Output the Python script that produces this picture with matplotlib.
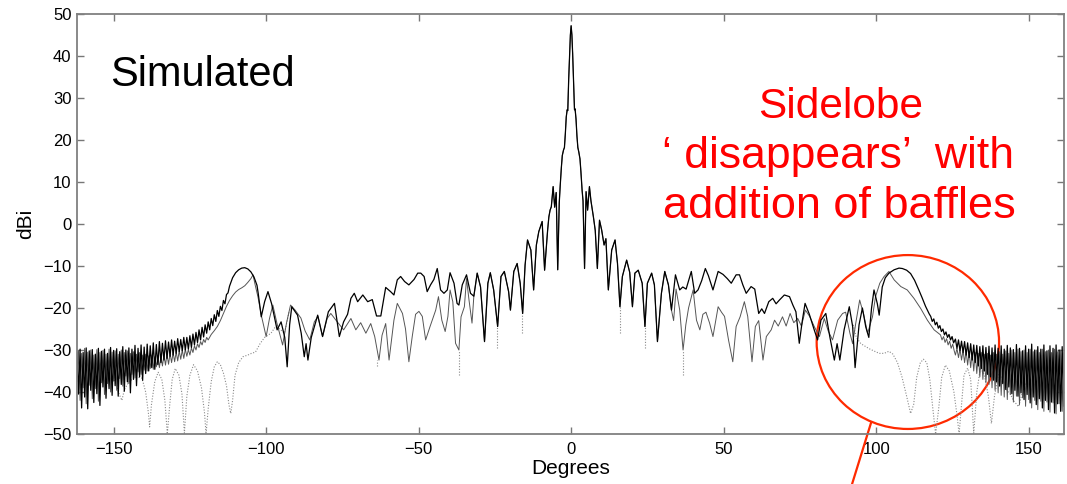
import matplotlib.pyplot as plt
from matplotlib.patches import Ellipse
import numpy as np

plt.rcParams['font.family'] = ['Liberation Sans', 'DejaVu Sans']

# dense ripple at the edges of the pattern, 0.5 deg samples (peak / trough alternating)
BAND_L = np.arange(-162, -125.5, 0.5)
BAND_R = np.arange(126, 162.5, 0.5)

black_band_l = [-30.5, -40.5, -29.8, -43.8, -30.6, -41.2, -29.5, -44.0, -30.2, -39.6,
                -29.9, -42.5, -31.0, -40.4, -29.6, -43.2, -30.3, -38.8, -29.8, -41.5,
                -30.8, -39.2, -29.4, -40.8, -30.1, -38.5, -29.7, -41.0, -30.4, -38.2,
                -29.2, -39.8, -30.0, -37.6, -29.5, -40.2, -29.8, -37.0, -28.9, -38.5,
                -29.6, -36.4, -28.8, -37.2, -29.3, -35.6, -28.6, -35.0, -29.0, -34.2,
                -28.3, -34.6, -28.7, -33.5, -28.0, -33.0, -28.4, -32.4, -27.8, -32.0,
                -28.1, -31.5, -27.6, -31.2, -27.9, -30.8, -27.3, -30.4, -27.5, -30.2,
                -27.0, -30.0, -27.0]
gray_band_l = [-37.5, -30.2, -42.0, -30.8, -39.0, -29.6, -42.8, -30.5, -38.4, -30.0,
               -41.6, -31.2, -39.2, -29.9, -42.2, -30.6, -37.8, -30.1, -40.6, -31.0,
               -38.0, -29.8, -40.0, -30.5, -37.4, -30.2, -39.6, -31.0, -36.8, -30.0,
               -38.6, -30.6, -36.2, -30.2, -38.0, -30.8, -35.8, -30.4, -36.6, -31.0,
               -35.2, -30.6, -35.8, -31.2, -34.8, -31.0, -35.0, -31.4, -34.4, -31.2,
               -34.6, -31.6, -34.0, -31.4, -34.2, -31.5, -33.8, -31.2, -33.6, -31.0,
               -33.4, -30.8, -33.0, -30.6, -32.8, -30.4, -32.6, -30.2, -32.2, -30.0,
               -32.0, -29.8, -31.5]
black_band_r = [-27.4, -29.6, -27.6, -30.2, -27.9, -30.6, -28.0, -31.2, -28.3, -31.8,
                -28.5, -32.4, -28.8, -33.0, -28.9, -33.8, -29.2, -34.4, -29.0, -35.0,
                -29.4, -35.8, -29.1, -36.4, -29.5, -37.2, -28.8, -37.6, -29.6, -38.6,
                -29.0, -38.0, -29.8, -39.4, -28.9, -38.8, -29.5, -40.4, -29.9, -39.6,
                -28.7, -41.0, -29.6, -40.2, -30.2, -41.8, -29.0, -40.6, -29.8, -42.6,
                -28.6, -41.2, -30.0, -43.0, -29.2, -41.6, -29.8, -43.8, -28.8, -42.0,
                -30.2, -44.2, -29.0, -42.4, -29.6, -45.0, -28.8, -42.8, -30.0, -44.6,
                -29.2, -43.4, -29.8]
gray_band_r = [-31.2, -29.6, -31.8, -29.8, -32.4, -30.0, -33.0, -30.2, -33.6, -30.4,
               -34.2, -30.5, -35.0, -30.6, -35.6, -30.8, -36.4, -30.6, -37.0, -31.0,
               -37.8, -30.8, -38.2, -31.2, -39.0, -30.6, -39.6, -31.0, -40.2, -30.4,
               -40.8, -31.0, -41.2, -30.2, -41.8, -30.8, -40.6, -30.0, -42.4, -30.6,
               -41.0, -29.8, -43.0, -30.4, -41.4, -30.0, -43.4, -30.6, -41.8, -29.8,
               -43.8, -30.4, -42.0, -30.0, -44.2, -30.6, -42.2, -29.8, -44.6, -30.4,
               -42.4, -30.0, -44.8, -30.6, -42.6, -29.8, -45.2, -30.4, -42.8, -30.0,
               -44.6, -30.6, -42.6]

# main beam and near sidelobes (same for all three cases)
center_deg = [-31.9, -30.8, -29.7, -28.4, -27.3, -26.5, -25.4, -24.1, -23.0, -21.9,
              -20.5, -19.9, -18.8, -17.7, -16.7, -15.9, -15.1, -14.3, -13.2, -12.3,
              -11.4, -10.6, -9.5, -8.7, -7.7, -7.3, -6.9, -6.5, -5.9, -5.4,
              -4.9, -4.4, -3.9, -3.6, -3.2, -2.9, -2.5, -2.2, -1.9, -1.6,
              -1.3, -1.1, -0.8, -0.5, -0.25, 0.0, 0.25, 0.5, 0.8, 1.1,
              1.3, 1.6, 1.9, 2.2, 2.5, 2.9, 3.2, 3.6, 3.9, 4.4,
              4.9, 5.4, 6.0, 6.5, 6.8, 7.3, 7.9, 8.6, 9.3, 10.0,
              10.8, 11.4, 12.2, 13.3, 14.4, 15.2, 16.0, 16.8, 18.2, 19.2,
              20.1, 20.9, 22.0, 23.3, 24.2, 25.0, 26.4, 27.3, 28.3, 29.6,
              30.7, 31.9, 32.9]
center_db = [-17.2, -11.7, -15.0, -28.0, -14.1, -11.6, -15.7, -24.4, -12.5, -11.3,
             -16.1, -20.5, -11.3, -9.4, -14.1, -21.3, -9.8, -3.8, -6.2, -15.7,
             -5.0, -1.8, 0.6, -11.0, -1.4, 1.7, 3.3, 4.1, 8.9, 4.0,
             7.5, -10.9, 5.0, 8.9, 13.5, 16.3, 17.6, 18.2, 21.5, 25.5,
             27.2, 27.0, 34.5, 40.5, 45.0, 47.2, 45.0, 40.5, 34.0, 27.2,
             27.4, 25.0, 21.0, 18.2, 17.2, 15.5, 12.5, 8.0, 5.5, -10.6,
             7.7, 3.3, 8.9, 5.5, 4.1, 1.7, -1.5, -10.6, 0.9, -1.4,
             -5.0, -3.5, -15.7, -6.2, -3.8, -9.4, -19.7, -12.5, -8.6, -11.5,
             -19.7, -11.7, -11.0, -14.1, -24.4, -14.1, -11.7, -14.5, -28.0, -16.5,
             -11.3, -14.5, -20.5]

# without baffles (solid black)
black_left_deg = [-125.5, -125, -124.5, -124, -123.5, -123, -122.5, -122, -121.5, -121,
                  -120.5, -120, -119.5, -119, -118.5, -118, -117.5, -117, -116.5, -116,
                  -115.5, -115, -114.5, -114, -113.5, -113, -112.5, -112, -111, -110,
                  -109, -108, -107, -106, -105, -104, -103, -102.6, -101.6, -100.5,
                  -99.4, -98.2, -96.4, -95.1, -93.9, -93.1, -92.3, -91.6, -89.7, -88.5,
                  -87.5, -86.9, -86.3, -85.2, -83.1, -81.5, -79.6, -77.6, -76.0, -74.6,
                  -73.3, -72.2, -71.1, -70.0, -68.3, -66.7, -65.2, -63.8, -62.4, -60.8,
                  -59.2, -58.1, -57.0, -55.9, -54.6, -53.2, -51.5, -50.3, -49.3, -48.2,
                  -47.2, -46.1, -45.0, -43.9, -42.8, -41.7, -40.6, -39.7, -38.4, -37.4,
                  -36.8, -35.7, -34.3, -33.0]
black_left_db = [-29.8, -26.6, -29.4, -26.2, -28.8, -25.8, -28.2, -25.2, -27.6, -24.6,
                 -26.9, -24.0, -26.0, -23.3, -25.2, -22.5, -24.2, -21.6, -23.2, -20.6,
                 -22.0, -19.6, -20.6, -18.2, -19.0, -16.8, -16.4, -14.8, -12.8, -11.6,
                 -10.9, -10.5, -10.4, -10.7, -11.4, -12.6, -14.6, -16.5, -22.1, -18.5,
                 -16.1, -19.0, -25.2, -23.3, -27.0, -34.0, -24.0, -19.7, -21.7, -26.0,
                 -31.6, -28.5, -32.4, -27.0, -21.7, -26.8, -20.9, -18.9, -26.8, -23.3,
                 -21.5, -17.7, -16.5, -18.5, -16.9, -18.5, -18.0, -21.9, -21.9, -15.1,
                 -16.1, -16.9, -13.3, -12.5, -13.7, -14.5, -13.2, -11.7, -11.7, -12.5,
                 -16.1, -14.5, -13.2, -10.6, -15.7, -16.5, -15.7, -11.6, -14.1, -18.9,
                 -19.3, -14.5, -12.1, -16.5]
black_right_deg = [34.2, 35.6, 36.6, 37.7, 39.4, 40.5, 41.6, 42.8, 44.0, 45.0,
                   46.5, 48.2, 49.8, 51.2, 52.5, 54.1, 55.2, 56.3, 57.4, 59.0,
                   60.2, 61.5, 62.5, 63.4, 64.8, 66.1, 67.2, 68.3, 69.9, 71.6,
                   72.7, 73.7, 74.8, 75.8, 76.7, 78.1, 79.7, 80.8, 81.9, 83.5,
                   84.8, 86.3, 87.2, 88.1, 89.5, 91.2, 92.3, 93.1, 94.4, 95.5,
                   96.6, 97.6, 98.5, 99.3, 100.4, 101.0, 102.0, 103.0, 104.2, 105.9,
                   107.5, 108.6, 110.0, 111.3, 112.6, 114.0, 115.1, 116.2, 117.4, 117.9,
                   118.4, 118.9, 119.4, 119.9, 120.4, 120.9, 121.4, 121.9, 122.4, 122.9,
                   123.4, 123.9, 124.4, 124.9, 125.4]
black_right_db = [-12.1, -15.7, -15.0, -15.5, -11.3, -16.5, -15.7, -13.5, -10.6, -12.3,
                  -15.7, -11.3, -12.0, -13.0, -14.1, -12.1, -12.1, -14.5, -16.5, -14.9,
                  -15.5, -21.3, -20.2, -21.3, -18.5, -17.7, -19.0, -18.1, -16.9, -17.3,
                  -19.3, -20.9, -28.4, -23.0, -18.9, -21.5, -25.2, -27.6, -22.9, -21.3,
                  -26.8, -32.4, -28.5, -32.4, -25.2, -19.7, -24.4, -34.2, -24.0, -20.0,
                  -24.5, -27.0, -20.0, -15.7, -19.0, -21.7, -15.0, -12.8, -11.7, -10.9,
                  -10.5, -10.6, -11.0, -11.8, -13.4, -15.7, -17.6, -19.6, -21.4, -22.0,
                  -23.2, -22.6, -24.0, -23.4, -24.8, -24.2, -25.6, -25.0, -26.4, -25.7,
                  -27.0, -26.3, -27.6, -26.8, -28.3]

# with baffles (thin grey)
gray_left_deg = [-125.5, -125, -124.5, -124, -123.5, -123, -122.5, -122, -121.5, -121,
                 -120.5, -120, -119.5, -119, -118, -117, -116, -115, -114, -113,
                 -112, -111, -110, -109, -108, -107, -106, -105, -104.3, -103.6,
                 -102.7, -101.5, -100.0, -98.9, -97.8, -96.5, -94.6, -93.3, -92.0, -90.5,
                 -88.6, -87.2, -85.7, -84.2, -83.0, -81.5, -80.0, -78.8, -77.0, -74.6,
                 -72.2, -70.6, -69.0, -67.3, -65.7, -64.4, -63.0, -62.0, -60.8, -59.7,
                 -58.1, -57.0, -55.3, -54.3, -53.2, -52.1, -51.0, -49.9, -48.8, -47.7,
                 -46.3, -44.4, -43.5, -42.4, -41.3, -40.4, -39.7, -38.8, -37.9, -36.8,
                 -36.1, -35.0, -34.3, -33.5, -32.5]
gray_left_db = [-29.9, -31.2, -29.5, -30.6, -29.0, -30.0, -28.5, -29.4, -28.0, -28.8,
                -27.5, -28.2, -27.0, -27.6, -26.3, -25.4, -24.4, -23.0, -21.3, -19.6,
                -18.2, -17.1, -16.2, -15.6, -15.2, -14.7, -13.9, -13.0, -12.1, -14.5,
                -17.3, -22.0, -26.8, -22.5, -19.3, -23.5, -28.8, -23.5, -19.3, -20.5,
                -22.4, -25.5, -27.6, -23.3, -22.0, -26.8, -22.5, -21.3, -23.0, -25.2,
                -22.5, -25.2, -23.5, -26.0, -23.7, -26.8, -32.4, -26.5, -23.7, -32.4,
                -22.9, -18.9, -21.3, -25.0, -32.8, -26.8, -21.5, -20.8, -22.0, -27.6,
                -24.5, -20.5, -17.3, -22.9, -25.6, -22.0, -15.7, -18.5, -28.4, -30.0,
                -22.1, -19.7, -13.0, -18.0, -23.6]
gray_right_deg = [33.6, 34.4, 35.6, 36.7, 37.6, 38.5, 40.0, 41.1, 42.2, 43.2,
                  44.2, 45.4, 46.5, 48.2, 49.3, 50.3, 51.6, 53.0, 54.1, 55.4,
                  56.8, 57.9, 59.3, 60.4, 61.5, 62.9, 64.0, 65.6, 66.7, 67.9,
                  69.3, 70.5, 71.8, 73.0, 74.3, 75.5, 76.8, 78.2, 79.7, 81.4,
                  83.0, 84.3, 85.7, 87.4, 89.0, 90.0, 91.4, 92.3, 93.3, 94.6,
                  95.9, 97.2, 98.8, 99.8, 101.2, 102.6, 104.2, 105.9, 108.1, 110.2,
                  112.4, 114.6, 116.8, 119.0, 121.1, 121.6, 122.1, 122.6, 123.1, 123.6,
                  124.1, 124.6, 125.1, 125.6]
gray_right_db = [-23.0, -15.5, -20.5, -30.0, -24.0, -20.0, -15.7, -22.9, -25.2, -21.5,
                 -21.0, -23.6, -26.8, -19.7, -21.0, -22.0, -27.6, -32.8, -24.4, -22.1,
                 -18.5, -22.0, -32.8, -24.4, -23.0, -32.4, -26.8, -25.2, -22.9, -24.3,
                 -22.1, -24.3, -21.3, -23.5, -22.5, -24.3, -20.5, -22.0, -24.4, -26.8,
                 -22.5, -25.5, -27.6, -22.9, -21.3, -21.0, -26.0, -28.5, -23.7, -18.1,
                 -21.5, -26.0, -22.1, -17.3, -14.1, -12.5, -11.3, -13.3, -14.9, -15.7,
                 -17.7, -20.1, -22.9, -25.2, -26.4, -27.6, -26.8, -28.2, -27.3, -28.8,
                 -27.9, -29.6, -28.6, -30.2]

# third case (dotted), only where it leaves the grey curve
dot_left_deg = [-150, -149, -148.2, -147.3, -146.5, -145, -143.5, -142, -140.7, -139.5,
                -138.6, -138.2, -137.6, -136.5, -135.4, -134.2, -133.2, -132.4, -131.6, -130.8,
                -129.8, -128.6, -127.6, -126.8, -126, -125, -123.8, -122.5, -121.2, -120.2,
                -119.7, -119, -118, -117, -116.0, -115, -114, -113, -112.2, -111.6,
                -111, -110.2, -109, -107.6, -106, -104.8, -103.5, -102.0, -100.5, -98.4,
                -97, -95.5, -94, -92.5]
dot_left_db = [-36.5, -38.5, -40.5, -42.0, -39.5, -37.5, -36.8, -36.5, -36.7, -40.0,
               -45.0, -48.3, -43.0, -37.5, -35.3, -37.0, -42.0, -50.0, -43.0, -37.0,
               -34.4, -36.0, -40.5, -49.8, -41.0, -36.0, -33.5, -35.0, -39.0, -45.0,
               -50.0, -44.0, -37.5, -34.0, -32.8, -33.5, -35.5, -38.5, -43.0, -45.1,
               -42.0, -36.0, -33.0, -31.6, -31.2, -30.8, -30.5, -28.5, -27.0, -26.0,
               -24.5, -25.0, -26.0, -21.0]
dot_right_deg = [92.5, 93.5, 95, 96.6, 98, 99.5, 101, 102.6, 104.2, 105.5,
                 107, 108.5, 110, 111.3, 112.3, 113.3, 114.5, 115.5, 116.6, 117.6,
                 118.6, 119.5, 120.5, 121.5, 122.7, 124, 125.5, 126.6, 127.2, 128,
                 128.8, 130, 131, 132, 133, 134.2, 135.5, 136.8, 137.8, 138.8,
                 140.2, 141.5, 142.8, 144, 145, 146.7, 148, 149]
dot_right_db = [-24.0, -27.0, -28.5, -29.2, -29.8, -30.3, -30.8, -30.8, -30.3, -31.0,
                -33.0, -36.5, -41.0, -45.1, -43.0, -36.5, -33.0, -32.2, -33.0, -37.0,
                -44.0, -50.0, -44.0, -36.5, -33.6, -35.0, -40.0, -46.0, -50.0, -43.0,
                -36.0, -34.3, -37.0, -49.8, -40.0, -34.2, -36.0, -41.0, -47.5, -41.0,
                -35.6, -37.0, -39.5, -40.5, -42.0, -43.5, -40.0, -38.0]
dip_deg = [-63.5, -36.8, -24.2, -16.0, 15.9, 24.1, 36.7]
dip_top = [-32.4, -30.0, -24.4, -21.3, -19.7, -24.4, -30.0]
dip_bottom = [-33.8, -36.0, -29.6, -26.0, -26.0, -29.6, -36.0]

black_x = np.concatenate([BAND_L, black_left_deg, center_deg, black_right_deg, BAND_R])
black_y = np.concatenate([black_band_l, black_left_db, center_db, black_right_db, black_band_r])
gray_x = np.concatenate([BAND_L, gray_left_deg, center_deg, gray_right_deg, BAND_R])
gray_y = np.concatenate([gray_band_l, gray_left_db, center_db, gray_right_db, gray_band_r])

fig = plt.figure(figsize=(10.67, 4.84), dpi=100)
ax = fig.add_axes([0.0722, 0.1033, 0.925, 0.8678])

dot_style = dict(color='#8a8a8a', lw=0.8, linestyle=(0, (1, 1.5)))
ax.plot(dot_left_deg, dot_left_db, **dot_style)
ax.plot(dot_right_deg, dot_right_db, **dot_style)
ax.vlines(dip_deg, dip_bottom, dip_top, **dot_style)
ax.plot(gray_x, gray_y, color='#555555', lw=0.7)
ax.plot(black_x, black_y, color='black', lw=0.9)

ax.set_xlim(-162, 161.6)
ax.set_ylim(-50, 50)
ax.set_xticks([-150, -100, -50, 0, 50, 100, 150])
ax.set_yticks(np.arange(-50, 51, 10))
ax.tick_params(direction='in', length=5, width=1, color='#777777',
               top=True, right=True, labelsize=12)
ax.tick_params(axis='x', pad=6)
ax.tick_params(axis='y', pad=4)
for sp in ax.spines.values():
    sp.set_color('#808080')
    sp.set_linewidth(1.3)
ax.set_xlabel('Degrees', fontsize=15, labelpad=1)
ax.set_ylabel('dBi', fontsize=15, labelpad=6)

ax.text(-151, 32.9, 'Simulated', fontsize=30, va='baseline', ha='left')
red = '#ff0000'
ax.text(88.5, 25.2, 'Sidelobe', fontsize=30.5, color=red, ha='center', va='baseline')
ax.text(87.5, 13.3, '\u2018 disappears\u2019  with', fontsize=32, color=red,
        ha='center', va='baseline')
ax.text(88.0, 1.4, 'addition of baffles', fontsize=32.5, color=red,
        ha='center', va='baseline')
ax.add_patch(Ellipse((110.4, -28.1), 59.8, 41.4, fill=False,
                     edgecolor='#ff2a00', lw=1.6, clip_on=False))
ax.plot([98.3, 92.2], [-47.4, -61.7], color='#ff2a00', lw=1.6, clip_on=False)

fig.savefig('out.png', dpi=100)
